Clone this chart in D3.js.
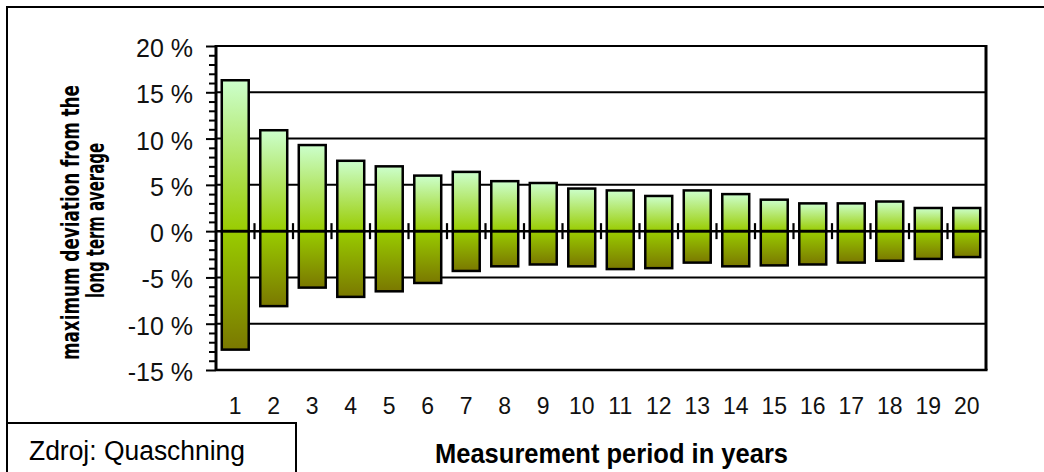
<!DOCTYPE html>
<html><head><meta charset="utf-8">
<script src="https://cdn.jsdelivr.net/npm/d3@7"></script>
<style>
html,body{margin:0;padding:0;background:#fff;}
svg{display:block;}
</style></head>
<body>
<svg id="chart" width="1044" height="472"></svg>
<script>
const years = ["1","2","3","4","5","6","7","8","9","10","11","12","13","14","15","16","17","18","19","20"];
const maxDeviation = [16.3, 10.9, 9.3, 7.6, 7.0, 6.0, 6.4, 5.4, 5.2, 4.6, 4.4, 3.8, 4.4, 4.0, 3.4, 3.0, 3.0, 3.2, 2.5, 2.5];
const minDeviation = [-12.8, -8.1, -6.1, -7.1, -6.5, -5.6, -4.3, -3.8, -3.6, -3.8, -4.1, -4.0, -3.4, -3.8, -3.7, -3.6, -3.4, -3.2, -3.0, -2.8];
const yTicks = [20, 15, 10, 5, 0, -5, -10, -15];
const yTitleLines = ["maximum deviation from the", "long term average"];
const xTitle = "Measurement period in years";
const sourceText = "Zdroj: Quaschning";

const svg = d3.select("#chart");
const L = 216, R = 986, T = 46, B = 370;

const y = d3.scaleLinear().domain([-15, 20]).range([B, T]);
const x = d3.scaleBand().domain(years).range([L, R]).paddingInner(0.3).paddingOuter(0.15);
const xEdge = d3.scaleBand().domain(years).range([L, R]).padding(0);

// gradients
const defs = svg.append("defs");
const gPos = defs.append("linearGradient").attr("id", "gPos").attr("x1", 0).attr("y1", 0).attr("x2", 0).attr("y2", 1);
gPos.append("stop").attr("offset", "0%").attr("stop-color", "#ccffcc");
gPos.append("stop").attr("offset", "100%").attr("stop-color", "#99cc00");
const gNeg = defs.append("linearGradient").attr("id", "gNeg").attr("x1", 0).attr("y1", 0).attr("x2", 0).attr("y2", 1);
gNeg.append("stop").attr("offset", "0%").attr("stop-color", "#99cc00");
gNeg.append("stop").attr("offset", "100%").attr("stop-color", "#7a7800");

// outer frame
svg.append("rect").attr("x", 7).attr("y", 7).attr("width", 1060).attr("height", 500)
  .attr("fill", "none").attr("stroke", "#000").attr("stroke-width", 2);

// gridlines
svg.append("g").selectAll("line").data(yTicks.filter(d => d !== 0 && d !== -15 && d !== 20)).join("line")
  .attr("x1", L).attr("x2", R).attr("y1", d => y(d)).attr("y2", d => y(d))
  .attr("stroke", "#000").attr("stroke-width", 2);

// plot frame: top and right and bottom
svg.append("line").attr("x1", L).attr("x2", R).attr("y1", y(20)).attr("y2", y(20)).attr("stroke", "#000").attr("stroke-width", 2);
svg.append("line").attr("x1", L).attr("x2", R + 1.5).attr("y1", y(-15)).attr("y2", y(-15)).attr("stroke", "#000").attr("stroke-width", 2.5);
svg.append("line").attr("x1", R).attr("x2", R).attr("y1", y(20) - 1).attr("y2", y(-15)).attr("stroke", "#000").attr("stroke-width", 3);

// bars
const bars = svg.append("g");
bars.selectAll("rect.pos").data(years).join("rect").attr("class", "pos")
  .attr("x", d => x(d)).attr("width", x.bandwidth())
  .attr("y", (d, i) => y(maxDeviation[i])).attr("height", (d, i) => y(0) - y(maxDeviation[i]))
  .attr("fill", "url(#gPos)").attr("stroke", "#000").attr("stroke-width", 2.5);
bars.selectAll("rect.neg").data(years).join("rect").attr("class", "neg")
  .attr("x", d => x(d)).attr("width", x.bandwidth())
  .attr("y", y(0)).attr("height", (d, i) => y(minDeviation[i]) - y(0))
  .attr("fill", "url(#gNeg)").attr("stroke", "#000").attr("stroke-width", 2.5);

// zero axis with cross ticks
svg.append("line").attr("x1", L).attr("x2", R).attr("y1", y(0)).attr("y2", y(0)).attr("stroke", "#000").attr("stroke-width", 2.5);
svg.append("g").selectAll("line").data(years.slice(1)).join("line")
  .attr("x1", d => xEdge(d)).attr("x2", d => xEdge(d))
  .attr("y1", y(0) - 8).attr("y2", y(0) + 8)
  .attr("stroke", "#000").attr("stroke-width", 2.2);

// y axis
const yAxis = d3.axisLeft(y).tickValues(d3.range(-15, 21, 1)).tickSize(7).tickFormat("");
const ya = svg.append("g").attr("transform", `translate(${L},0)`).call(yAxis);
ya.select(".domain").remove();
ya.selectAll(".tick line").attr("stroke", "#000").attr("stroke-width", 2)
  .attr("x2", d => d % 5 === 0 ? -10 : -7);
svg.append("line").attr("x1", L).attr("x2", L).attr("y1", y(20) - 1).attr("y2", y(-15) + 1).attr("stroke", "#000").attr("stroke-width", 3);

// y tick labels
svg.append("g").selectAll("text").data(yTicks).join("text")
  .attr("x", 193).attr("y", d => y(d) + 11)
  .attr("text-anchor", "end")
  .attr("font-family", "Liberation Sans, Arial, sans-serif").attr("font-size", 25)
  .attr("fill", "#111")
  .text(d => d + " %");

// x tick labels
svg.append("g").selectAll("text").data(years).join("text")
  .attr("x", d => x(d) + x.bandwidth() / 2).attr("y", 414)
  .attr("text-anchor", "middle")
  .attr("font-family", "Liberation Sans, Arial, sans-serif").attr("font-size", 23)
  .attr("fill", "#111")
  .text(d => d);

// y title
const yTitle = svg.append("g").attr("font-family", "Liberation Sans Narrow, DejaVu Sans Condensed, Arial Narrow, sans-serif")
  .attr("font-weight", "bold").attr("font-size", 24).attr("fill", "#000");
yTitle.append("text").attr("transform", "translate(79,222.5) rotate(-90)").attr("text-anchor", "middle")
  .attr("textLength", 275).attr("lengthAdjust", "spacingAndGlyphs").text(yTitleLines[0]);
yTitle.append("text").attr("transform", "translate(104,220.5) rotate(-90)").attr("text-anchor", "middle")
  .attr("textLength", 155).attr("lengthAdjust", "spacingAndGlyphs").text(yTitleLines[1]);

// x title
svg.append("text").attr("x", 611.5).attr("y", 463).attr("text-anchor", "middle")
  .attr("font-family", "Liberation Sans, Arial, sans-serif").attr("font-weight", "bold").attr("font-size", 27)
  .attr("textLength", 353).attr("lengthAdjust", "spacingAndGlyphs")
  .attr("fill", "#000").text(xTitle);

// source box
svg.append("rect").attr("x", 7).attr("y", 423).attr("width", 289).attr("height", 80)
  .attr("fill", "#fff").attr("stroke", "#000").attr("stroke-width", 2);
svg.append("text").attr("x", 29).attr("y", 459.5)
  .attr("font-family", "Liberation Sans, Arial, sans-serif").attr("font-size", 27)
  .attr("textLength", 216).attr("lengthAdjust", "spacingAndGlyphs")
  .attr("fill", "#000").text(sourceText);
</script>
</body></html>
